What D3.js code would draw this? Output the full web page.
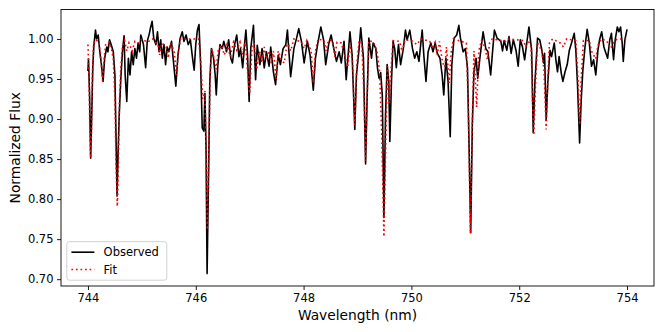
<!DOCTYPE html>
<html>
<head>
<meta charset="utf-8">
<script src="https://cdn.jsdelivr.net/npm/d3@7"></script>
<style>
body { margin: 0; background: #fff; }
text { font-family: "DejaVu Sans", sans-serif; }
</style>
</head>
<body>
<svg id="chart"></svg>
<script>
//Size of the figure
var svgWidth = 664;
var svgHeight = 332;
var margin = { top: 9.5, right: 10, bottom: 46, left: 61 };

//Tick values
var xTicks = [744, 746, 748, 750, 752, 754];
var yTicks = [0.70, 0.75, 0.80, 0.85, 0.90, 0.95, 1.00];

//Observed spectrum [wavelength nm, normalized flux]
var observed = [
    [744.00, 0.960], [744.01, 0.975], [744.03, 0.930], [744.05, 0.851], [744.07, 0.905],
    [744.09, 0.965], [744.11, 0.992], [744.14, 1.011], [744.16, 1.000], [744.19, 1.005],
    [744.22, 0.984], [744.25, 0.968], [744.28, 0.947], [744.31, 0.976], [744.35, 0.990],
    [744.37, 0.984], [744.40, 0.999], [744.43, 0.993], [744.47, 0.984], [744.50, 0.955],
    [744.52, 0.880], [744.54, 0.804], [744.56, 0.860], [744.58, 0.905], [744.61, 0.951],
    [744.64, 0.984], [744.67, 1.004], [744.69, 0.955], [744.72, 0.922], [744.75, 0.976],
    [744.78, 0.955], [744.81, 0.984], [744.84, 0.968], [744.87, 0.988], [744.90, 0.976],
    [744.93, 0.995], [744.96, 0.984], [744.98, 1.005], [745.03, 0.993], [745.07, 0.964],
    [745.10, 0.997], [745.14, 1.007], [745.16, 1.014], [745.19, 1.022], [745.22, 1.001],
    [745.26, 0.993], [745.29, 1.009], [745.32, 0.984], [745.35, 0.999], [745.38, 0.976],
    [745.41, 0.993], [745.44, 0.968], [745.47, 0.990], [745.50, 0.984], [745.55, 0.997],
    [745.58, 0.976], [745.63, 0.941], [745.67, 0.980], [745.71, 1.001], [745.75, 1.009],
    [745.78, 0.997], [745.82, 1.005], [745.86, 0.993], [745.90, 0.999], [745.94, 0.976],
    [745.97, 0.961], [746.00, 0.993], [746.03, 1.011], [746.06, 1.018], [746.09, 0.968],
    [746.12, 0.889], [746.15, 0.885], [746.17, 0.932], [746.19, 0.864], [746.21, 0.707],
    [746.24, 0.843], [746.26, 0.947], [746.29, 0.988], [746.33, 0.976], [746.36, 0.955],
    [746.38, 0.930], [746.41, 0.968], [746.45, 0.993], [746.49, 0.988], [746.52, 0.997],
    [746.57, 0.984], [746.61, 0.999], [746.65, 0.976], [746.68, 0.970], [746.72, 0.993],
    [746.76, 1.005], [746.80, 0.978], [746.83, 0.988], [746.87, 0.964], [746.91, 0.997],
    [746.93, 1.011], [746.96, 0.980], [746.99, 0.922], [747.02, 0.988], [747.07, 1.017],
    [747.11, 0.949], [747.14, 0.992], [747.19, 0.968], [747.23, 0.988], [747.27, 0.964],
    [747.31, 0.984], [747.36, 0.966], [747.39, 0.990], [747.44, 0.959], [747.48, 0.943],
    [747.53, 0.980], [747.57, 0.968], [747.62, 0.988], [747.67, 0.993], [747.70, 1.011],
    [747.76, 0.953], [747.82, 0.988], [747.87, 1.001], [747.91, 1.013], [747.96, 0.997],
    [748.01, 0.970], [748.07, 0.997], [748.12, 0.980], [748.18, 0.936], [748.22, 0.976],
    [748.27, 0.997], [748.32, 1.015], [748.37, 0.999], [748.41, 0.968], [748.47, 0.995],
    [748.51, 1.005], [748.56, 0.988], [748.61, 0.972], [748.66, 0.984], [748.70, 0.970],
    [748.75, 0.997], [748.79, 0.949], [748.86, 1.009], [748.90, 0.980], [748.95, 0.887],
    [748.98, 0.955], [749.03, 0.988], [749.06, 1.014], [749.11, 0.976], [749.15, 0.844],
    [749.18, 0.930], [749.21, 1.001], [749.26, 0.976], [749.29, 0.995], [749.34, 0.988],
    [749.37, 0.964], [749.40, 0.951], [749.43, 0.958], [749.46, 0.930], [749.49, 0.777],
    [749.52, 0.905], [749.55, 0.968], [749.58, 0.947], [749.60, 0.872], [749.63, 0.947],
    [749.66, 0.997], [749.69, 0.988], [749.72, 0.964], [749.76, 0.993], [749.80, 0.968],
    [749.85, 0.988], [749.89, 1.011], [749.92, 0.999], [749.97, 1.011], [750.02, 0.988],
    [750.06, 0.976], [750.10, 0.984], [750.14, 0.972], [750.20, 1.011], [750.23, 0.980],
    [750.27, 0.947], [750.31, 0.984], [750.36, 0.995], [750.40, 0.984], [750.44, 0.995],
    [750.48, 0.982], [750.53, 0.976], [750.57, 0.955], [750.60, 0.930], [750.64, 0.976],
    [750.68, 0.947], [750.72, 0.878], [750.75, 0.968], [750.79, 1.001], [750.84, 1.005],
    [750.88, 1.017], [750.91, 1.001], [750.96, 0.984], [751.00, 0.988], [751.04, 0.964],
    [751.07, 0.864], [751.10, 0.758], [751.13, 0.893], [751.16, 0.959], [751.20, 0.976],
    [751.23, 0.951], [751.27, 0.976], [751.33, 1.009], [751.38, 0.988], [751.42, 0.984],
    [751.47, 0.955], [751.51, 0.988], [751.54, 1.011], [751.59, 1.001], [751.66, 0.997],
    [751.69, 0.985], [751.72, 0.998], [751.77, 0.986], [751.81, 1.003], [751.85, 0.982],
    [751.89, 0.999], [751.94, 0.986], [751.98, 0.966], [752.02, 0.999], [752.06, 0.990],
    [752.10, 0.974], [752.14, 0.995], [752.18, 1.015], [752.23, 0.986], [752.26, 0.883],
    [752.29, 0.945], [752.34, 1.001], [752.38, 0.999], [752.42, 0.986], [752.45, 0.970],
    [752.47, 0.982], [752.50, 0.899], [752.53, 0.945], [752.57, 0.986], [752.60, 0.978],
    [752.65, 0.995], [752.68, 0.974], [752.71, 0.959], [752.74, 0.978], [752.78, 0.957],
    [752.81, 0.947], [752.85, 0.959], [752.89, 0.968], [752.93, 0.986], [752.97, 0.995],
    [753.02, 1.007], [753.05, 0.986], [753.08, 0.945], [753.12, 0.870], [753.15, 0.924],
    [753.18, 0.961], [753.22, 0.990], [753.26, 1.012], [753.30, 0.995], [753.34, 0.966],
    [753.38, 0.974], [753.42, 0.955], [753.46, 0.986], [753.49, 0.999], [753.53, 1.009],
    [753.57, 0.990], [753.61, 0.982], [753.64, 0.976], [753.68, 0.999], [753.71, 1.007],
    [753.75, 0.974], [753.78, 0.999], [753.82, 1.015], [753.85, 1.009], [753.88, 1.015],
    [753.91, 0.995], [753.93, 0.972], [753.96, 0.999], [754.00, 1.012]
];

//Model fit [wavelength nm, normalized flux]
var fit = [
    [744.00, 0.993], [744.02, 0.950], [744.035, 0.885], [744.05, 0.852], [744.065, 0.885],
    [744.08, 0.950], [744.10, 0.990], [744.13, 0.999], [744.20, 0.997], [744.24, 0.975],
    [744.27, 0.948], [744.30, 0.975], [744.33, 0.994], [744.40, 0.996], [744.44, 0.986],
    [744.47, 0.975], [744.50, 0.925], [744.52, 0.845], [744.545, 0.791], [744.565, 0.845],
    [744.585, 0.925], [744.61, 0.965], [744.64, 0.990], [744.68, 0.998], [744.72, 0.985],
    [744.76, 0.995], [744.82, 0.985], [744.87, 0.997], [744.95, 0.995], [745.00, 1.000],
    [745.10, 0.996], [745.20, 1.000], [745.30, 0.992], [745.33, 0.980], [745.37, 0.995],
    [745.45, 0.990], [745.49, 0.976], [745.53, 0.995], [745.60, 0.985], [745.64, 0.955],
    [745.68, 0.985], [745.72, 1.000], [746.05, 1.000], [746.09, 0.975], [746.13, 0.925],
    [746.17, 0.935], [746.19, 0.860], [746.215, 0.762], [746.24, 0.860], [746.27, 0.960],
    [746.30, 0.988], [746.34, 0.975], [746.38, 0.962], [746.42, 0.988], [746.48, 0.992],
    [746.53, 0.980], [746.58, 0.993], [746.64, 0.978], [746.70, 0.996], [746.76, 0.986],
    [746.82, 0.996], [746.86, 0.980], [746.92, 0.998], [746.96, 0.960], [747.00, 0.932],
    [747.04, 0.985], [747.08, 0.995], [747.13, 0.962], [747.18, 0.985], [747.22, 0.970],
    [747.27, 0.990], [747.31, 0.975], [747.36, 0.985], [747.40, 0.970], [747.44, 0.985],
    [747.49, 0.950], [747.53, 0.985], [747.58, 0.975], [747.64, 0.970], [747.70, 0.997],
    [747.76, 0.985], [747.82, 1.000], [747.96, 0.996], [748.01, 0.988], [748.06, 0.998],
    [748.14, 0.985], [748.18, 0.945], [748.22, 0.985], [748.27, 1.000], [748.38, 0.998],
    [748.42, 0.985], [748.46, 0.998], [748.54, 0.998], [748.58, 0.978], [748.62, 0.996],
    [748.70, 0.995], [748.78, 0.975], [748.82, 0.965], [748.86, 0.995], [748.91, 0.970],
    [748.95, 0.893], [748.99, 0.970], [749.03, 0.998], [749.08, 0.995], [749.12, 0.930],
    [749.15, 0.848], [749.18, 0.930], [749.21, 0.998], [749.30, 0.996], [749.36, 0.985],
    [749.41, 0.960], [749.45, 0.880], [749.49, 0.753], [749.53, 0.890], [749.555, 0.966],
    [749.59, 0.920], [749.62, 0.960], [749.66, 0.998], [749.78, 0.997], [749.83, 0.984],
    [749.88, 0.999], [750.00, 0.998], [750.10, 0.993], [750.18, 1.000], [750.34, 0.997],
    [750.39, 0.988], [750.44, 0.996], [750.48, 0.980], [750.52, 0.997], [750.58, 0.970],
    [750.62, 0.965], [750.65, 0.990], [750.70, 0.945], [750.74, 0.985], [750.78, 1.000],
    [751.02, 0.995], [751.06, 0.900], [751.095, 0.757], [751.13, 0.900], [751.16, 0.985],
    [751.21, 0.915], [751.25, 0.985], [751.30, 0.998], [751.36, 0.990], [751.41, 0.974],
    [751.45, 0.995], [751.50, 1.000], [751.75, 0.997], [751.80, 1.000], [752.08, 0.998],
    [752.12, 0.990], [752.16, 0.999], [752.22, 0.990], [752.245, 0.930], [752.27, 0.880],
    [752.30, 0.940], [752.34, 0.995], [752.42, 0.985], [752.46, 0.960], [752.50, 0.887],
    [752.53, 0.950], [752.56, 0.995], [752.62, 1.000], [752.76, 0.995], [752.82, 0.990],
    [752.88, 1.000], [753.05, 0.998], [753.09, 0.950], [753.12, 0.893], [753.15, 0.950],
    [753.19, 0.998], [753.30, 0.998], [753.34, 0.985], [753.38, 0.980], [753.42, 0.975],
    [753.46, 0.992], [753.52, 1.000], [753.62, 0.998], [753.70, 0.988], [753.75, 0.996],
    [753.82, 1.000], [754.00, 1.000]
];

var legendItems = [
    { name: "Observed", color: "#000000", dash: null },
    { name: "Fit", color: "#ff0000", dash: "1.7,2.85" }
];

var width = svgWidth - margin.left - margin.right;
var height = svgHeight - margin.top - margin.bottom;

var svg = d3.select("#chart")
    .attr("width", svgWidth)
    .attr("height", svgHeight);

var g = svg.append("g")
    .attr("transform", "translate(" + margin.left + "," + margin.top + ")");

//Scales (matplotlib style 5% padding around the data)
var x = d3.scaleLinear().domain([743.5, 754.5]).range([0, width]);
var y = d3.scaleLinear().domain([0.6915, 1.0368]).range([height, 0]);

var line = d3.line()
    .x(function (d) { return x(d[0]); })
    .y(function (d) { return y(d[1]); });

g.append("path")
    .datum(observed)
    .attr("fill", "none")
    .attr("stroke", "#000")
    .attr("stroke-width", 1.6)
    .attr("stroke-linejoin", "round")
    .attr("d", line);

g.append("path")
    .datum(fit)
    .attr("fill", "none")
    .attr("stroke", "#ff0000")
    .attr("stroke-width", 1.6)
    .attr("stroke-dasharray", "1.7,2.85")
    .attr("d", line);

//Axes
var xAxis = g.append("g")
    .attr("transform", "translate(0," + height + ")")
    .call(d3.axisBottom(x).tickValues(xTicks).tickSize(4).tickPadding(3.5).tickFormat(d3.format("d")));

var yAxis = g.append("g")
    .call(d3.axisLeft(y).tickValues(yTicks).tickSize(4).tickPadding(3.5).tickFormat(d3.format(".2f")));

[xAxis, yAxis].forEach(function (a) {
    a.select(".domain").remove();
    a.selectAll("line").attr("stroke", "#000").attr("stroke-width", 0.9);
    a.selectAll("text")
        .attr("fill", "#000")
        .style("font-size", "11.5px")
        .style("font-family", "'DejaVu Sans', sans-serif");
});

//Frame
g.append("rect")
    .attr("width", width)
    .attr("height", height)
    .attr("fill", "none")
    .attr("stroke", "#000")
    .attr("stroke-width", 0.9);

//Axis labels
svg.append("text")
    .attr("x", margin.left + width / 2)
    .attr("y", 320)
    .attr("text-anchor", "middle")
    .style("font-size", "13.8px")
    .text("Wavelength (nm)");

svg.append("text")
    .attr("transform", "translate(20," + (margin.top + height / 2) + ") rotate(-90)")
    .attr("text-anchor", "middle")
    .style("font-size", "13.8px")
    .text("Normalized Flux");

//Legend (lower left)
var legend = g.append("g")
    .attr("transform", "translate(5.8," + (height - 5.8 - 38.5) + ")");

legend.append("rect")
    .attr("width", 100)
    .attr("height", 38.5)
    .attr("rx", 2.5)
    .attr("fill", "#fff")
    .attr("fill-opacity", 0.8)
    .attr("stroke", "#cccccc")
    .attr("stroke-width", 0.9);

var entries = legend.selectAll(".entry")
    .data(legendItems)
    .enter()
    .append("g")
    .attr("class", "entry")
    .attr("transform", function (d, i) { return "translate(0," + (10.5 + i * 17.3) + ")"; });

entries.append("line")
    .attr("x1", 4.6)
    .attr("x2", 27.6)
    .attr("stroke", function (d) { return d.color; })
    .attr("stroke-width", 1.6)
    .attr("stroke-dasharray", function (d) { return d.dash; });

entries.append("text")
    .attr("x", 36.8)
    .attr("dy", "0.35em")
    .style("font-size", "11.5px")
    .text(function (d) { return d.name; });
</script>
</body>
</html>
